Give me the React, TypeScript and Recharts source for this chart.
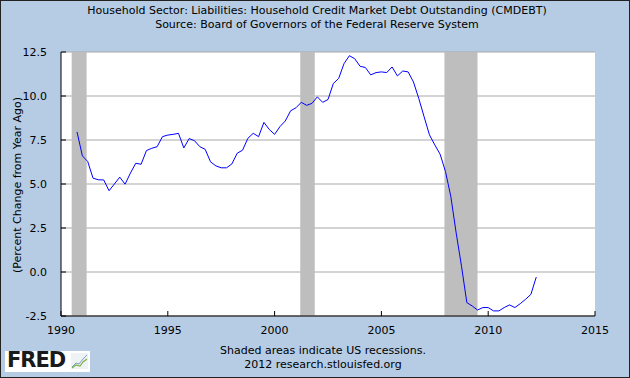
import React from "react";
import {
  LineChart,
  Line,
  XAxis,
  YAxis,
  CartesianGrid,
  ReferenceArea,
} from "recharts";

// quarterly observations, year as decimal
const quarters: number[] = [
  1990.75, 1991.0, 1991.25, 1991.5, 1991.75, 1992.0, 1992.25, 1992.5, 1992.75,
  1993.0, 1993.25, 1993.5, 1993.75, 1994.0, 1994.25, 1994.5, 1994.75, 1995.0,
  1995.25, 1995.5, 1995.75, 1996.0, 1996.25, 1996.5, 1996.75, 1997.0, 1997.25,
  1997.5, 1997.75, 1998.0, 1998.25, 1998.5, 1998.75, 1999.0, 1999.25, 1999.5,
  1999.75, 2000.0, 2000.25, 2000.5, 2000.75, 2001.0, 2001.25, 2001.5, 2001.75,
  2002.0, 2002.25, 2002.5, 2002.75, 2003.0, 2003.25, 2003.5, 2003.75, 2004.0,
  2004.25, 2004.5, 2004.75, 2005.0, 2005.25, 2005.5, 2005.75, 2006.0, 2006.25,
  2006.5, 2006.75, 2007.0, 2007.25, 2007.5, 2007.75, 2008.0, 2008.25, 2008.5,
  2008.75, 2009.0, 2009.25, 2009.5, 2009.75, 2010.0, 2010.25, 2010.5, 2010.75,
  2011.0, 2011.25, 2011.5, 2011.75, 2012.0, 2012.25,
];

// percent change from year ago
const pctChange: number[] = [
  7.96, 6.6, 6.28, 5.33, 5.24, 5.23, 4.62, 5.0, 5.39,
  4.99, 5.62, 6.18, 6.12, 6.9, 7.03, 7.12, 7.69, 7.78,
  7.82, 7.88, 7.05, 7.58, 7.46, 7.12, 6.97, 6.26, 6.03,
  5.92, 5.92, 6.14, 6.75, 6.92, 7.6, 7.88, 7.69, 8.5,
  8.1, 7.82, 8.26, 8.58, 9.16, 9.33, 9.64, 9.47, 9.58,
  9.95, 9.64, 9.8, 10.71, 11.0, 11.84, 12.29, 12.12, 11.69,
  11.62, 11.2, 11.33, 11.37, 11.33, 11.65, 11.14, 11.42, 11.37,
  10.8, 9.86, 8.82, 7.79, 7.22, 6.69, 5.71, 4.29, 2.22,
  0.33, -1.74, -1.93, -2.16, -2.02, -2.02, -2.21, -2.21, -2.02,
  -1.87, -2.02, -1.8, -1.55, -1.27, -0.29,
];

const recessionStart = [1990.5, 2001.2, 2007.95];
const recessionEnd = [1991.2, 2001.88, 2009.5];

const xTicks = [1990, 1995, 2000, 2005, 2010, 2015];
const yTicks = [-2.5, 0, 2.5, 5, 7.5, 10, 12.5];

const data = quarters.map((q, i) => ({ date: q, value: pctChange[i] }));

const FONT = "'DejaVu Sans', Verdana, sans-serif";
const BG = "#B5CCE4";

function FredLogo() {
  return (
    <div
      style={{
        position: "absolute",
        left: 5,
        top: 351,
        width: 85,
        height: 21,
        background: "#fff",
      }}
    >
      <span
        style={{
          position: "absolute",
          left: 2,
          top: -3,
          fontFamily: FONT,
          fontWeight: 700,
          fontSize: 21,
          letterSpacing: -1,
          color: "#1a1a1a",
        }}
      >
        FRED
      </span>
      <svg
        style={{ position: "absolute", left: 66, top: 2 }}
        width={17}
        height={16}
      >
        <rect x={0} y={0} width={17} height={16} fill="#eef2f4" />
        <polyline
          points="1,14 5,10 8,11 12,6 16,2"
          fill="none"
          stroke="#7aa0c8"
          strokeWidth={1}
        />
        <polyline
          points="1,15 5,12 9,13 12,9 16,6"
          fill="none"
          stroke="#7fb04a"
          strokeWidth={1.2}
        />
      </svg>
    </div>
  );
}

export default function App() {
  return (
    <div
      style={{
        position: "absolute",
        left: 0,
        top: 0,
        width: 630,
        height: 378,
        background: BG,
        fontFamily: FONT,
        overflow: "hidden",
      }}
    >
      <div
        style={{
          position: "absolute",
          left: 0,
          width: 630,
          top: 4,
          textAlign: "center",
          fontSize: 11,
          lineHeight: "14px",
          color: "#000",
          paddingLeft: 2,
        }}
      >
        <div>Household Sector: Liabilities: Household Credit Market Debt Outstanding (CMDEBT)</div>
        <div>Source: Board of Governors of the Federal Reserve System</div>
      </div>

      <LineChart
        width={630}
        height={378}
        data={data}
        margin={{ top: 52, right: 35, left: 21, bottom: 32 }}
        style={{ position: "absolute", left: 0, top: 0 }}
      >
        <CartesianGrid
          vertical={false}
          stroke="#A8A8A8"
          fill="#FFFFFF"
          fillOpacity={1}
        />
        {recessionStart.map((s, i) => (
          <ReferenceArea
            key={s}
            x1={s}
            x2={recessionEnd[i]}
            y1={-2.5}
            y2={12.5}
            fill="#BEBEBE"
            fillOpacity={1}
            stroke="none"
          />
        ))}
        <XAxis
          dataKey="date"
          type="number"
          domain={[1990, 2015]}
          ticks={xTicks}
          interval={0}
          height={30}
          tickSize={-5}
          tickMargin={15}
          axisLine={{ stroke: "#000" }}
          tickLine={{ stroke: "#000" }}
          tick={{ fill: "#000", fontSize: 11, fontFamily: FONT }}
          allowDataOverflow
        />
        <YAxis
          type="number"
          domain={[-2.5, 12.5]}
          ticks={yTicks}
          interval={0}
          width={40}
          tickSize={-5}
          tickMargin={19}
          tickFormatter={(v: number) => v.toFixed(1)}
          axisLine={{ stroke: "#000" }}
          tickLine={{ stroke: "#000" }}
          tick={{ fill: "#000", fontSize: 11, fontFamily: FONT }}
          allowDataOverflow
        />
        <Line
          type="linear"
          dataKey="value"
          stroke="#0000FF"
          strokeWidth={1}
          dot={false}
          activeDot={false}
          isAnimationActive={false}
        />
      </LineChart>

      <div
        style={{
          position: "absolute",
          left: 17,
          top: 185,
          transform: "translate(-50%, -50%) rotate(-90deg)",
          whiteSpace: "nowrap",
          fontSize: 11,
          color: "#000",
        }}
      >
        (Percent Change from Year Ago)
      </div>

      <div
        style={{
          position: "absolute",
          left: 8,
          width: 630,
          top: 344,
          textAlign: "center",
          fontSize: 11,
          lineHeight: "14px",
          color: "#000",
        }}
      >
        <div>Shaded areas indicate US recessions.</div>
        <div>2012 research.stlouisfed.org</div>
      </div>

      <FredLogo />

      <div
        style={{
          position: "absolute",
          left: 0,
          top: 0,
          width: 630,
          height: 378,
          boxSizing: "border-box",
          border: "1px solid #222",
          pointerEvents: "none",
        }}
      />
    </div>
  );
}
